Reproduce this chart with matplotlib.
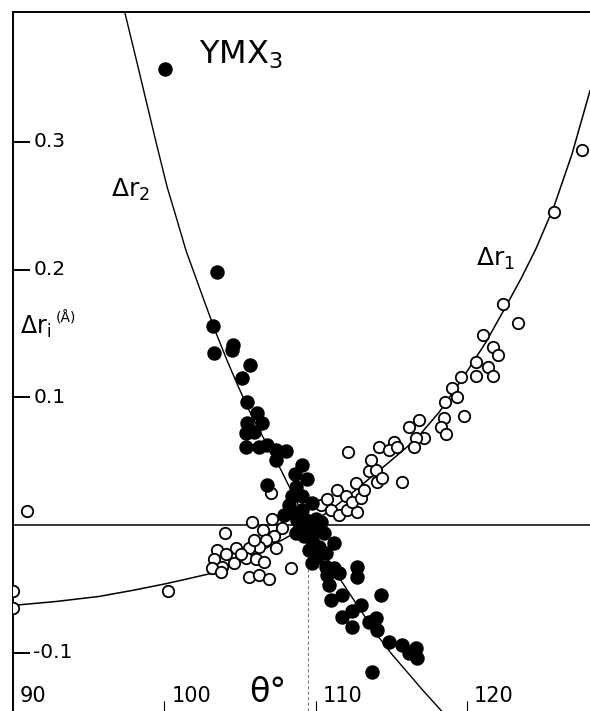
"""
YMX3 structure correlation: bond length deviations vs. angle theta
"""

import matplotlib
matplotlib.use("Agg")
import matplotlib.pyplot as plt
import matplotlib.transforms as mtransforms

# ---- data ----
# theoretical curves
dr2_curve_x = [97.39, 98.25, 99.44, 100.17, 100.80, 101.42, 102.61, 103.35,
               104.13, 104.85, 105.58, 106.45, 107.36, 108.45, 109.50,
               110.50, 111.52, 112.85, 114.16, 115.00, 115.94, 117.10,
               118.32]
dr2_curve_y = [0.401, 0.359, 0.300, 0.265, 0.240, 0.215, 0.176, 0.152,
               0.129, 0.109, 0.090, 0.070, 0.051, 0.025, 0.000,
               -0.021, -0.041, -0.065, -0.088, -0.101, -0.114, -0.130,
               -0.146]

dr1_curve_x = [90.0, 92.8, 95.68, 98.0, 100.10, 101.6, 103.07, 104.7,
               106.24, 107.9, 109.50, 110.9, 112.18, 113.5, 114.82, 116.60,
               118.12, 119.64, 121.22, 122.54, 123.55, 124.52, 125.71,
               126.90, 128.1]
dr1_curve_y = [-0.063, -0.060, -0.056, -0.051, -0.046, -0.042, -0.038,
               -0.030, -0.021, -0.011, 0.000, 0.011, 0.023, 0.036, 0.049,
               0.067, 0.088, 0.114, 0.143, 0.171, 0.193, 0.216, 0.249,
               0.290, 0.340]

# filled circles: delta r2
dr2_x = [100.03, 103.47, 103.20, 103.27, 104.52, 104.46, 105.64, 105.12,
         105.45, 106.11, 105.45, 106.44, 105.38, 105.91, 105.38, 106.24,
         106.77, 107.36, 108.02, 107.36, 109.08, 106.77, 108.68, 108.42,
         109.08, 109.74, 108.35, 109.08, 108.75, 109.34, 110.00, 110.33,
         109.74, 108.68, 109.21, 109.74, 110.53, 110.20, 109.54, 110.07,
         110.66, 111.19, 109.74, 110.66, 111.19, 111.52, 110.73, 112.71,
         112.71, 110.86, 111.72, 110.99, 112.97, 114.29, 111.72, 112.38,
         112.38, 113.50, 113.96, 114.03, 114.82, 115.68, 116.60, 116.67,
         116.14, 113.70, 108.22, 108.88, 107.89, 110.07, 108.60, 109.40]
dr2_y = [0.357, 0.198, 0.156, 0.135, 0.141, 0.137, 0.125, 0.115,
         0.096, 0.088, 0.080, 0.080, 0.072, 0.073, 0.061, 0.061,
         0.063, 0.059, 0.058, 0.051, 0.047, 0.031, 0.030, 0.023,
         0.023, 0.017, 0.010, 0.012, 0.004, 0.004, 0.005, 0.002,
         -0.002, -0.006, -0.009, -0.012, -0.006, -0.017, -0.020, -0.025,
         -0.022, -0.014, -0.030, -0.033, -0.034, -0.038, -0.039, -0.033,
         -0.041, -0.047, -0.055, -0.059, -0.063, -0.055, -0.072, -0.067,
         -0.080, -0.076, -0.073, -0.082, -0.092, -0.094, -0.096, -0.104,
         -0.100, -0.115, 0.016, -0.004, 0.008, -0.004, 0.040, 0.036]

# open circles: delta r1
dr1_x = [90.92, 90.0, 90.0, 100.23,
         104.00, 105.78, 107.10, 106.50, 107.76, 107.03, 107.23, 106.70,
         107.36, 106.24, 105.58, 104.72, 103.47, 104.06, 103.27, 103.80,
         104.59, 105.38, 106.04, 106.57, 103.14, 103.73, 105.58, 106.24,
         106.90, 108.35, 105.91, 105.05,
         110.33, 110.73, 110.99, 111.52, 111.39, 111.98, 112.05, 112.71,
         112.38, 112.97, 112.64, 113.17, 113.50, 113.96, 114.03, 114.36,
         115.68,
         127.56, 125.71, 122.34, 123.33, 121.02, 121.68, 122.01, 120.56,
         121.35, 121.68, 120.56, 119.57, 118.98, 119.31, 118.51, 119.77,
         118.45, 118.25, 118.58, 116.80, 116.14, 117.13, 116.60, 115.15,
         116.47, 114.16, 114.82, 115.35, 112.11, 113.63]
dr1_y = [0.011, -0.052, -0.065, -0.052,
         -0.006, 0.002, 0.005, -0.004, -0.002, 0.025, -0.009, -0.012,
         -0.018, -0.017, -0.018, -0.018, -0.020, -0.023, -0.027, -0.033,
         -0.030, -0.026, -0.027, -0.029, -0.034, -0.037, -0.041, -0.039,
         -0.042, -0.034, -0.012, -0.023,
         0.016, 0.020, 0.012, 0.008, 0.027, 0.023, 0.012, 0.010,
         0.018, 0.021, 0.033, 0.027, 0.042, 0.043, 0.034, 0.037,
         0.034,
         0.294, 0.245, 0.173, 0.158, 0.149, 0.139, 0.133, 0.128,
         0.124, 0.117, 0.117, 0.116, 0.107, 0.100, 0.096, 0.085,
         0.084, 0.077, 0.071, 0.082, 0.077, 0.068, 0.068, 0.065,
         0.061, 0.061, 0.059, 0.061, 0.057, 0.051]

y_ticks = [-0.1, 0.1, 0.2, 0.3]
y_tick_labels = ['-0.1', '0.1', '0.2', '0.3']
x_ticks = [100, 110, 120]
x_tick_labels = ['90', '100', '110', '120']
tetrahedral = 109.47

# ---- figure ----
plt.rcParams['font.family'] = 'DejaVu Sans'
fig = plt.figure(figsize=(5.9, 7.11), dpi=100)
ax = fig.add_axes([13 / 590, 0.0, 577 / 590, 699 / 711])
ax.set_xlim(90, 128.1)
ax.set_ylim(-0.1457, 0.4017)

for side in ['right', 'bottom']:
    ax.spines[side].set_visible(False)
ax.spines['left'].set_linewidth(1.4)
ax.spines['top'].set_linewidth(1.4)

# y ticks point inward, labels drawn inside the frame
ax.set_yticks(y_ticks)
ax.set_xticks(x_ticks)
ax.tick_params(axis='y', direction='in', length=12, width=1.4,
               labelleft=False)
ax.tick_params(axis='x', direction='in', length=7, width=0.8,
               labelbottom=False)

trans_y = mtransforms.blended_transform_factory(ax.transAxes, ax.transData)
for val, lab in zip(y_ticks, y_tick_labels):
    ax.text(0.035, val, lab, transform=trans_y, ha='left', va='center',
            fontsize=14.5)

trans_x = mtransforms.blended_transform_factory(ax.transData, ax.transAxes)
for val, lab in zip([90] + x_ticks, x_tick_labels):
    ax.text(val + 0.45, 0.013, lab, transform=trans_x, ha='left',
            va='baseline', fontsize=15)

# reference lines
ax.axhline(0, color='black', lw=1.1, zorder=1)
ax.plot([tetrahedral, tetrahedral], [-0.1457, -0.033], color='gray',
        lw=0.8, ls=(0, (3, 2)), zorder=1)

# curves
ax.plot(dr2_curve_x, dr2_curve_y, color='black', lw=1.0, zorder=2)
ax.plot(dr1_curve_x, dr1_curve_y, color='black', lw=1.1, zorder=2)

# points
ax.plot(dr1_x, dr1_y, ls='none', marker='o', ms=8.2, mfc='white',
        mec='black', mew=1.3, zorder=3)
ax.plot(dr2_x, dr2_y, ls='none', marker='o', ms=9.4, mfc='black',
        mec='black', zorder=4)

# labels
ax.text(102.3, 0.368, 'YMX$_\\mathregular{3}$', fontsize=23, ha='left',
        va='center')
ax.text(96.5, 0.262, 'Δr$_\\mathregular{2}$', fontsize=18, ha='left',
        va='center')
ax.text(120.6, 0.208, 'Δr$_\\mathregular{1}$', fontsize=18, ha='left',
        va='center')
ax.text(90.45, 0.155, 'Δr$_\\mathregular{i}$', fontsize=17, ha='left',
        va='center')
ax.text(92.85, 0.162, '(Å)', fontsize=10, ha='left', va='center')
ax.text(105.6, 0.013, 'θ°', transform=trans_x, fontsize=24, ha='left',
        va='baseline')

fig.savefig('out.png', dpi=100)
